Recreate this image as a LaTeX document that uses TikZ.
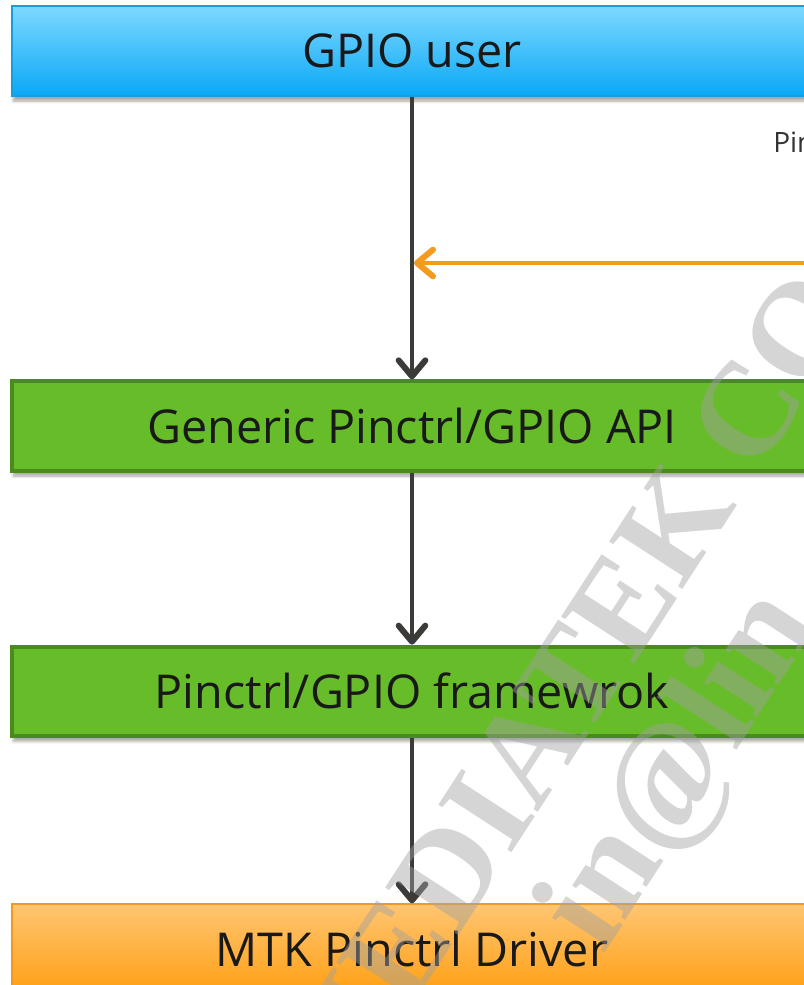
\documentclass[tikz,border=0pt]{standalone}
\usepackage{fontspec}
\setmainfont{Open Sans}
\newfontfamily\wmfont{Liberation Serif}
\usetikzlibrary{arrows.meta,positioning,shadows.blur}
\definecolor{userbluetop}{HTML}{7DD8FF}
\definecolor{userblue}{HTML}{0AA8F6}
\definecolor{userblueline}{HTML}{169FD8}
\definecolor{apigreen}{HTML}{67BC29}
\definecolor{apigreenline}{HTML}{4A8A1E}
\definecolor{drvorangetop}{HTML}{FFC572}
\definecolor{drvorange}{HTML}{FF9F12}
\definecolor{drvorangeline}{HTML}{F29A20}
\definecolor{flowgray}{HTML}{3B3B38}
\definecolor{pinorange}{HTML}{F39A1F}
\tikzset{
    layer/.style={rectangle, minimum width=600pt, minimum height=67pt, inner sep=0pt,
        font=\fontsize{35}{40}\selectfont, text=black!90,
        blur shadow={shadow xshift=1pt, shadow yshift=-4pt, shadow opacity=35}},
    userlayer/.style={layer, top color=userbluetop, bottom color=userblue, draw=userblueline, line width=1.5pt},
    apilayer/.style={layer, fill=apigreen, draw=apigreenline, line width=3pt},
    drvlayer/.style={layer, top color=drvorangetop, bottom color=drvorange, draw=drvorangeline, line width=1.2pt},
    callflow/.style={-{Straight Barb[length=12pt, width=20pt, line width=4.5pt 0, round]}, line width=3.2pt, flowgray},
    pinflow/.style={-{Straight Barb[length=12pt, width=20pt, line width=4.5pt 0, round]}, line width=3.4pt, pinorange},
    pinlabel/.style={font=\fontsize{21}{24}\selectfont, text=black!80, inner sep=0pt},
    wmtext/.style={text=black!37, text opacity=0.45, inner sep=0pt, rotate=57}
}
\begin{document}
\begin{tikzpicture}[x=0.75pt, y=-0.75pt]
    \useasboundingbox (0,0) rectangle (803,985);
    \node[userlayer] (user) at (412,51) {GPIO user};
    \node[apilayer, below=212pt of user] (api) {Generic Pinctrl/GPIO API};
    \node[apilayer, below=129pt of api] (fw) {Pinctrl/GPIO framewrok};
    \node[drvlayer, below=124pt of fw] (drv) {MTK Pinctrl Driver};
    \draw[callflow] (user) -- (api);
    \draw[callflow] (api) -- (fw);
    \draw[callflow] (fw) -- (drv);
    % pinctrl path coming in from the right
    \coordinate (pinsrc) at (840,263);
    \draw[pinflow, shorten >=1.5pt] (pinsrc) -- (pinsrc -| user.south);
    \node[pinlabel, anchor=base west] (pintext) at (773,152) {Pin};
    % watermark
    \node[wmtext, anchor=base west, font=\wmfont\bfseries\fontsize{100}{110}\selectfont] (wmcorp) at (340,1118) {MEDIATEK CO};
    \node[wmtext, anchor=base west, font=\wmfont\bfseries\fontsize{103}{110}\selectfont] (wmuser) at (603,956) {in@lin};
\end{tikzpicture}
\end{document}
